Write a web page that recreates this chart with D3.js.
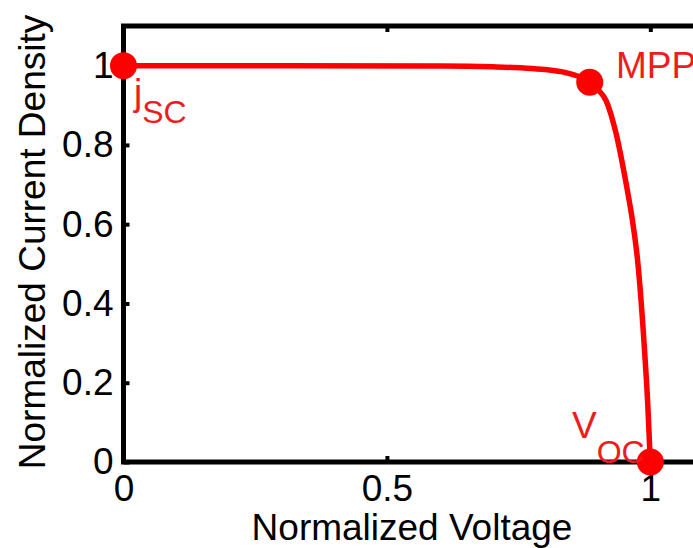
<!DOCTYPE html>
<html>
<head>
<meta charset="utf-8">
<script src="https://cdn.jsdelivr.net/npm/d3@7"></script>
<style>
  body { margin: 0; background: #fff; overflow: hidden; }
  text { font-family: "Liberation Sans", Arial, sans-serif; }
</style>
</head>
<body>
<div id="chart"></div>
<script>
// J-V curve
var voltage = [0, 0.3, 0.6, 0.7, 0.76, 0.8, 0.84, 0.865, 0.885, 0.9, 0.916, 0.935, 0.954, 0.966, 0.976, 0.989, 0.995, 1.0];
var current = [1, 1, 0.999, 0.997, 0.994, 0.99, 0.982, 0.972, 0.958, 0.94, 0.912, 0.829, 0.703, 0.61, 0.507, 0.282, 0.15, 0];

// marked points: Jsc, MPP, Voc
var pointNames = ["jsc", "mpp", "voc"];
var pointV = [0, 0.885, 1];
var pointJ = [1, 0.958, 0];

var xTicks = [0, 0.5, 1];
var yTicks = [0, 0.2, 0.4, 0.6, 0.8, 1];
var xTickLabels = ["0", "0.5", "1"];
var yTickLabels = ["0", "0.2", "0.4", "0.6", "0.8", "1"];

var width = 693, height = 548;
var margin = {top: 26, right: -10, bottom: 86, left: 123.5};

var svg = d3.select("#chart")
    .append("svg")
    .attr("width", width)
    .attr("height", height)
    .style("display", "block");

svg.append("rect")
    .attr("width", width)
    .attr("height", height)
    .attr("fill", "#fff");

var x = d3.scaleLinear()
    .domain([0, 1.1])
    .range([margin.left, width - margin.right]);

var y = d3.scaleLinear()
    .domain([0, 1.1])
    .range([height - margin.bottom, margin.top]);

var fontSize = 37;

// inward ticks
function styleAxis(g) {
    g.select(".domain").remove();
    g.selectAll(".tick line").attr("stroke", "#000").attr("stroke-width", 4);
    g.selectAll(".tick text")
        .attr("fill", "#000")
        .style("font-size", fontSize + "px")
        .style("font-family", "'Liberation Sans', Arial, sans-serif");
}

svg.append("g")
    .attr("transform", "translate(0," + y(0) + ")")
    .call(d3.axisBottom(x).tickValues(xTicks).tickSize(-6).tickPadding(13)
        .tickFormat((d, i) => xTickLabels[i]))
    .call(styleAxis);

svg.append("g")
    .attr("transform", "translate(" + x(0) + ",0)")
    .call(d3.axisLeft(y).tickValues(yTicks).tickSize(-6).tickPadding(10)
        .tickFormat((d, i) => yTickLabels[i]))
    .call(styleAxis);

svg.append("g")
    .attr("transform", "translate(0," + y(1.1) + ")")
    .call(d3.axisTop(x).tickValues(xTicks).tickSize(-6).tickFormat(""))
    .call(styleAxis);

// axes box (right side falls outside the window)
svg.append("rect")
    .attr("x", x(0))
    .attr("y", y(1.1))
    .attr("width", x(1.1) - x(0))
    .attr("height", y(0) - y(1.1))
    .attr("fill", "none")
    .attr("stroke", "#000")
    .attr("stroke-width", 5);

// axis titles
svg.append("text")
    .attr("x", 412)
    .attr("y", 540)
    .attr("text-anchor", "middle")
    .style("font-size", fontSize + "px")
    .text("Normalized Voltage");

svg.append("text")
    .attr("transform", "translate(45,242) rotate(-90)")
    .attr("text-anchor", "middle")
    .style("font-size", fontSize + "px")
    .text("Normalized Current Density");

// curve
var line = d3.line()
    .x(i => x(voltage[i]))
    .y(i => y(current[i]))
    .curve(d3.curveMonotoneX);

svg.append("path")
    .datum(d3.range(voltage.length))
    .attr("d", line)
    .attr("fill", "none")
    .attr("stroke", "#ff0000")
    .attr("stroke-width", 5.5)
    .attr("stroke-linejoin", "round");

svg.selectAll(".pt")
    .data(pointNames)
    .join("circle")
    .attr("class", "pt")
    .attr("cx", (d, i) => x(pointV[i]))
    .attr("cy", (d, i) => y(pointJ[i]))
    .attr("r", 13.5)
    .attr("fill", "#ff0000");

// annotations
var red = "#ee1c1c";

var jsc = svg.append("text")
    .attr("x", 134)
    .attr("y", 105)
    .attr("fill", red);
jsc.append("tspan").style("font-size", fontSize + "px").text("j");
jsc.append("tspan").attr("dy", 18).style("font-size", "32px").text("SC");

svg.append("text")
    .attr("x", 616)
    .attr("y", 78)
    .attr("fill", red)
    .style("font-size", fontSize + "px")
    .text("MPP");

var voc = svg.append("text")
    .attr("x", 572)
    .attr("y", 438)
    .attr("fill", red);
voc.append("tspan").style("font-size", fontSize + "px").text("V");
voc.append("tspan").attr("dy", 25).style("font-size", "32px").text("OC");
</script>
</body>
</html>
